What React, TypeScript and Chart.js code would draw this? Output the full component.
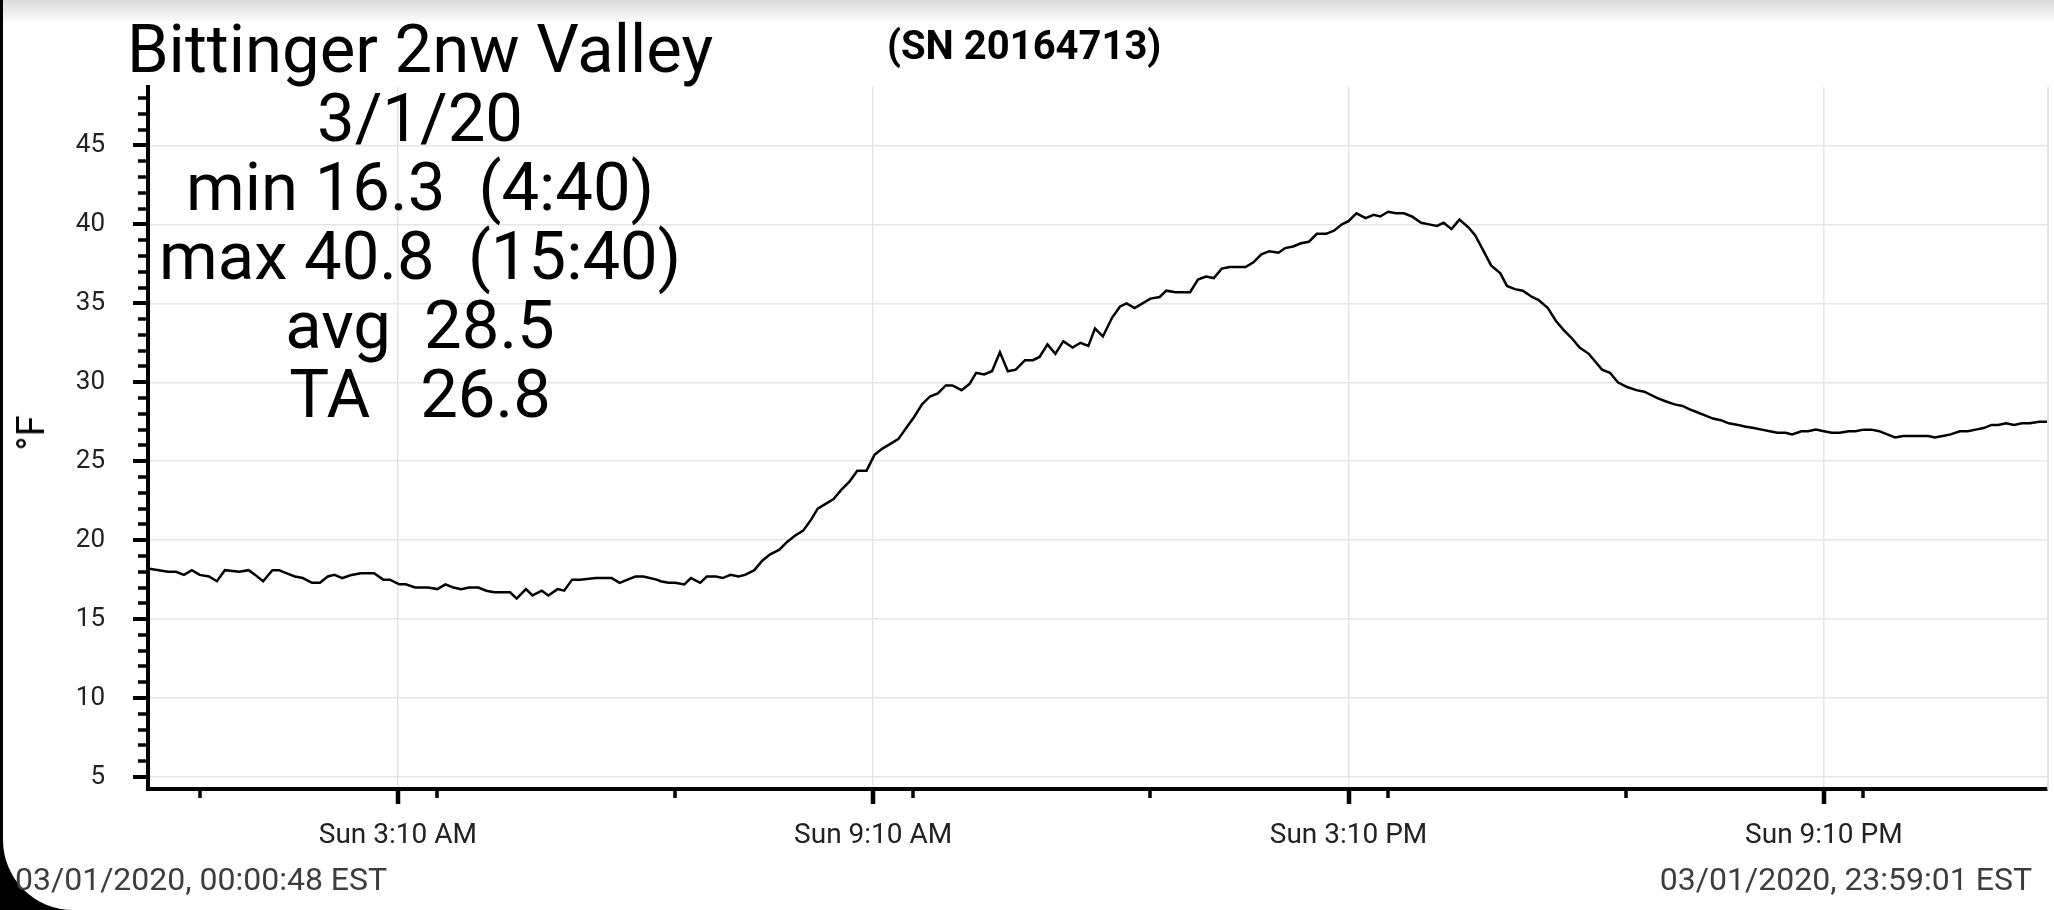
import React, { useEffect, useRef } from "react";
import { Chart, registerables } from "chart.js";

Chart.register(...registerables);

// minutes since midnight, 03/01/2020
const times = [
  0.8, 9, 16, 22, 28, 34, 40, 47, 53, 59, 70, 77, 82, 88, 95, 100, 106, 112, 118, 125,
  131, 137, 142, 148, 155, 162, 172, 179, 184, 191, 196, 203, 213, 220, 226, 232, 238, 244, 251, 257,
  263, 275, 280, 287, 292, 299, 304, 311, 316, 322, 328, 340, 352, 358, 364, 370, 376, 386,
  389, 395, 400, 407, 412, 419, 424, 431, 436, 442, 448, 453, 460, 466, 472, 479, 485, 491, 497, 503,
  508, 514, 520, 526, 532, 538, 545, 551, 557, 563, 569, 575, 581, 587, 593, 599, 605, 610, 617, 623,
  628, 634, 640, 646, 652, 658, 665, 671, 676, 682, 688, 694, 701, 707, 713, 718, 724, 731, 737,
  742, 748, 754, 760, 767, 772, 779, 785, 790, 796, 802, 808, 814, 820, 826, 832, 838, 844, 850, 857,
  862, 868, 874, 880, 886, 893, 899, 905, 910, 916, 923, 929, 934, 940, 946, 952, 958, 965, 971, 977,
  982, 988, 994, 1001, 1006, 1013, 1018, 1025, 1030, 1036, 1042, 1049, 1054, 1061, 1067, 1073, 1079, 1085,
  1092, 1097, 1102, 1108, 1114, 1121, 1128, 1134, 1144, 1150, 1157, 1163, 1168, 1174, 1180, 1186, 1192, 1198,
  1205, 1210, 1217, 1223, 1229, 1235, 1241, 1246, 1253, 1258, 1264, 1270, 1276, 1282, 1289, 1294, 1300, 1306,
  1312, 1318, 1324, 1330, 1336, 1342, 1349, 1354, 1360, 1366, 1373, 1379, 1385, 1391, 1397, 1402, 1408, 1414,
  1420, 1426, 1433, 1439,
];

// temperature, °F
const temps = [
  18.2, 18.1, 18.0, 18.0, 17.8, 18.1, 17.8, 17.7, 17.4, 18.1, 18.0, 18.1, 17.8, 17.4, 18.1, 18.1, 17.9, 17.7, 17.6, 17.3,
  17.3, 17.7, 17.8, 17.6, 17.8, 17.9, 17.9, 17.5, 17.5, 17.2, 17.2, 17.0, 17.0, 16.9, 17.2, 17.0, 16.9, 17.0, 17.0, 16.8,
  16.7, 16.7, 16.3, 16.9, 16.5, 16.8, 16.5, 16.9, 16.8, 17.5, 17.5, 17.6, 17.6, 17.3, 17.5, 17.7, 17.7, 17.5,
  17.4, 17.3, 17.3, 17.2, 17.6, 17.3, 17.7, 17.7, 17.6, 17.8, 17.7, 17.8, 18.1, 18.7, 19.1, 19.4, 19.9, 20.3, 20.6, 21.3,
  22.0, 22.3, 22.6, 23.2, 23.7, 24.4, 24.4, 25.4, 25.8, 26.1, 26.4, 27.1, 27.8, 28.6, 29.1, 29.3, 29.8, 29.8, 29.5, 29.9,
  30.6, 30.5, 30.7, 31.9, 30.7, 30.8, 31.4, 31.4, 31.6, 32.4, 31.8, 32.6, 32.2, 32.5, 32.3, 33.4, 32.9, 34.1, 34.8,
  35.0, 34.7, 35.0, 35.3, 35.4, 35.8, 35.7, 35.7, 35.7, 36.5, 36.7, 36.6, 37.2, 37.3, 37.3, 37.3, 37.6, 38.1, 38.3, 38.2,
  38.5, 38.6, 38.8, 38.9, 39.4, 39.4, 39.6, 40.0, 40.2, 40.7, 40.4, 40.6, 40.5, 40.8, 40.7, 40.7, 40.5, 40.1, 40.0, 39.9,
  40.1, 39.7, 40.3, 39.8, 39.3, 38.2, 37.4, 36.9, 36.1, 35.9, 35.8, 35.4, 35.2, 34.7, 33.9, 33.3, 32.8, 32.2,
  31.8, 31.3, 30.8, 30.6, 30.0, 29.7, 29.5, 29.4, 29.0, 28.8, 28.6, 28.5, 28.3, 28.1, 27.9, 27.7, 27.6, 27.4,
  27.3, 27.2, 27.1, 27.0, 26.9, 26.8, 26.8, 26.7, 26.9, 26.9, 27.0, 26.9, 26.8, 26.8, 26.9, 26.9, 27.0, 27.0,
  26.9, 26.7, 26.5, 26.6, 26.6, 26.6, 26.6, 26.5, 26.6, 26.7, 26.9, 26.9, 27.0, 27.1, 27.3, 27.3, 27.4, 27.3,
  27.4, 27.4, 27.5, 27.5,
];

const xTickMinutes = [190, 550, 910, 1270];
const xTickLabels = ["Sun 3:10 AM", "Sun 9:10 AM", "Sun 3:10 PM", "Sun 9:10 PM"];
const xMinorMinutes = [40, 220, 400, 580, 760, 940, 1120, 1300];
const yTickValues = [5, 10, 15, 20, 25, 30, 35, 40, 45];
const xRange = [0.8, 1439];
const yRange = [4.24, 48.7];

const titleLines = [
  "Bittinger 2nw Valley",
  "3/1/20",
  "min 16.3  (4:40)",
  "max 40.8  (15:40)",
  "avg  28.5",
  "TA   26.8",
];
const serialText = "(SN 20164713)";
const yAxisTitle = "°F";
const startStamp = "03/01/2020, 00:00:48 EST";
const endStamp = "03/01/2020, 23:59:01 EST";

const tickPlugin = {
  id: "customTicks",
  afterDraw(chart: any) {
    const { ctx, chartArea } = chart;
    const x = chart.scales.x;
    const y = chart.scales.y;
    ctx.save();
    ctx.lineCap = "butt";
    // right edge faint line
    ctx.strokeStyle = "#dcdcdc";
    ctx.lineWidth = 1.5;
    ctx.beginPath();
    ctx.moveTo(chartArea.right + 1, chartArea.top);
    ctx.lineTo(chartArea.right + 1, chartArea.bottom);
    ctx.stroke();
    ctx.strokeStyle = "#000";
    // y ticks (minor every 1, major every 5)
    for (let v = Math.ceil(y.min); v <= y.max; v += 1) {
      const py = Math.round(y.getPixelForValue(v));
      const major = v % 5 === 0;
      ctx.lineWidth = major ? 4 : 3.5;
      ctx.beginPath();
      ctx.moveTo(chartArea.left - (major ? 15 : 10), py);
      ctx.lineTo(chartArea.left, py);
      ctx.stroke();
    }
    // x minor ticks
    xMinorMinutes.forEach((m) => {
      const px = Math.round(x.getPixelForValue(m));
      ctx.lineWidth = 3.5;
      ctx.beginPath();
      ctx.moveTo(px, chartArea.bottom);
      ctx.lineTo(px, chartArea.bottom + 9);
      ctx.stroke();
    });
    // x major ticks
    xTickMinutes.forEach((m) => {
      const px = Math.round(x.getPixelForValue(m));
      ctx.lineWidth = 4.5;
      ctx.beginPath();
      ctx.moveTo(px, chartArea.bottom);
      ctx.lineTo(px, chartArea.bottom + 15);
      ctx.stroke();
    });
    ctx.restore();
  },
};

function TempChart() {
  const ref = useRef<HTMLCanvasElement | null>(null);
  useEffect(() => {
    if (!ref.current) return;
    const chart = new Chart(ref.current, {
      type: "line",
      data: {
        datasets: [
          {
            data: times.map((t, i) => ({ x: t, y: temps[i] })),
            borderColor: "#000",
            borderWidth: 2.5,
            pointRadius: 0,
            tension: 0,
            fill: false,
          },
        ],
      },
      options: {
        animation: false,
        responsive: false,
        maintainAspectRatio: false,
        layout: { padding: { left: 0, top: 87, right: 7, bottom: 0 } },
        plugins: {
          legend: { display: false },
          tooltip: { enabled: false },
          title: { display: false },
        },
        scales: {
          x: {
            type: "linear",
            min: xRange[0],
            max: xRange[1],
            afterFit: (s: any) => {
              s.height = 910 - 789;
            },
            afterBuildTicks: (s: any) => {
              s.ticks = xTickMinutes.map((v) => ({ value: v }));
            },
            ticks: {
              autoSkip: false,
              maxRotation: 0,
              minRotation: 0,
              padding: 30,
              color: "#222",
              font: { family: "Roboto", size: 28 },
              callback: (v: any) => {
                const i = xTickMinutes.indexOf(Number(v));
                return i >= 0 ? xTickLabels[i] : "";
              },
            },
            grid: { color: "#e6e6e6", lineWidth: 1.5, drawTicks: false },
            border: { color: "#000", width: 4 },
          },
          y: {
            type: "linear",
            min: yRange[0],
            max: yRange[1],
            afterFit: (s: any) => {
              s.width = 148;
            },
            afterBuildTicks: (s: any) => {
              s.ticks = yTickValues.map((v) => ({ value: v }));
            },
            ticks: {
              padding: 43,
              color: "#222",
              font: { family: "Roboto", size: 26 },
              callback: (v: any) => String(v),
            },
            grid: { color: "#e6e6e6", lineWidth: 1.5, drawTicks: false },
            border: { color: "#000", width: 4 },
          },
        },
      },
      plugins: [tickPlugin],
    });
    return () => chart.destroy();
  }, []);
  return (
    <canvas
      ref={ref}
      width={2054}
      height={910}
      style={{ position: "absolute", left: 0, top: 0, width: 2054, height: 910 }}
    />
  );
}

export default function App() {
  return (
    <div
      style={{
        position: "fixed",
        left: 0,
        top: 0,
        width: 2054,
        height: 910,
        background: "#000",
        overflow: "hidden",
        fontFamily: "Roboto, sans-serif",
      }}
    >
      <div
        style={{
          position: "absolute",
          left: 3,
          top: 0,
          right: 0,
          bottom: 0,
          background: "#fff",
          borderBottomLeftRadius: 70,
        }}
      />
      <div
        style={{
          position: "absolute",
          left: 3,
          top: 0,
          right: 0,
          height: 24,
          background: "linear-gradient(#dadada, rgba(255,255,255,0))",
        }}
      />
      <TempChart />
      <div
        style={{
          position: "absolute",
          left: 420,
          top: 14.5,
          transform: "translateX(-50%)",
          fontSize: 67,
          lineHeight: "69px",
          whiteSpace: "pre",
          textAlign: "center",
          color: "#000",
        }}
      >
        {titleLines.map((l, i) => (
          <div key={i}>{l}</div>
        ))}
      </div>
      <div
        style={{
          position: "absolute",
          left: 887,
          top: 26,
          fontSize: 40,
          lineHeight: "40px",
          fontWeight: 700,
          color: "#000",
          whiteSpace: "pre",
        }}
      >
        {serialText}
      </div>
      <div
        style={{
          position: "absolute",
          left: 31,
          top: 433,
          transform: "translate(-50%, -50%) rotate(-90deg)",
          fontSize: 38,
          lineHeight: "38px",
          color: "#000",
          whiteSpace: "pre",
        }}
      >
        {yAxisTitle}
      </div>
      <div
        style={{
          position: "absolute",
          left: 15,
          top: 863,
          fontSize: 32,
          lineHeight: "32px",
          color: "#3d3d3d",
          whiteSpace: "pre",
        }}
      >
        {startStamp}
      </div>
      <div
        style={{
          position: "absolute",
          right: 22,
          top: 863,
          fontSize: 32,
          lineHeight: "32px",
          color: "#3d3d3d",
          whiteSpace: "pre",
        }}
      >
        {endStamp}
      </div>
    </div>
  );
}
